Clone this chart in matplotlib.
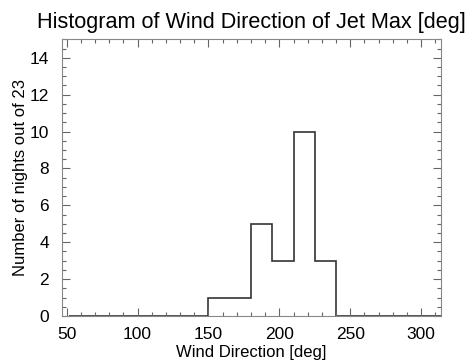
import matplotlib
matplotlib.use("Agg")
import matplotlib.pyplot as plt
from matplotlib.ticker import MultipleLocator

bin_edges = [52, 150, 165, 180, 195, 210, 225, 240, 314]
counts = [0, 1, 1, 5, 3, 10, 3, 0]

plt.rcParams['font.family'] = ['Liberation Sans', 'DejaVu Sans']

fig = plt.figure(figsize=(4.71, 3.64), dpi=100)
ax = fig.add_axes([61.7/471, 1-316/364, (441-61.7)/471, (316-39.3)/364])

ax.stairs(counts, bin_edges, color='#333333', linewidth=1.2, baseline=None)

ax.set_xlim(46.5, 314)
ax.set_ylim(0, 15)
ax.xaxis.set_major_locator(MultipleLocator(50))
ax.xaxis.set_minor_locator(MultipleLocator(10))
ax.yaxis.set_major_locator(MultipleLocator(2))
ax.yaxis.set_minor_locator(MultipleLocator(0.5))
ax.tick_params(which='both', direction='in', top=True, right=True,
               colors='#666666', labelcolor='black', labelsize=12.5)
ax.tick_params(axis='x', which='major', pad=8)
ax.tick_params(axis='y', which='major', pad=9)
ax.tick_params(which='major', length=6, width=0.8)
ax.tick_params(which='minor', length=3, width=0.8)
for s in ax.spines.values():
    s.set_color('#888888')
    s.set_linewidth(0.8)

ax.set_title('Histogram of Wind Direction of Jet Max [deg]', fontsize=15.6, pad=8)
ax.set_xlabel('Wind Direction [deg]', fontsize=12)
ax.set_ylabel('Number of nights out of 23', fontsize=12)
ax.yaxis.set_label_coords(-0.09, 0.5)
ax.xaxis.set_label_coords(0.5, -0.105)

fig.savefig('out.png', dpi=100)
